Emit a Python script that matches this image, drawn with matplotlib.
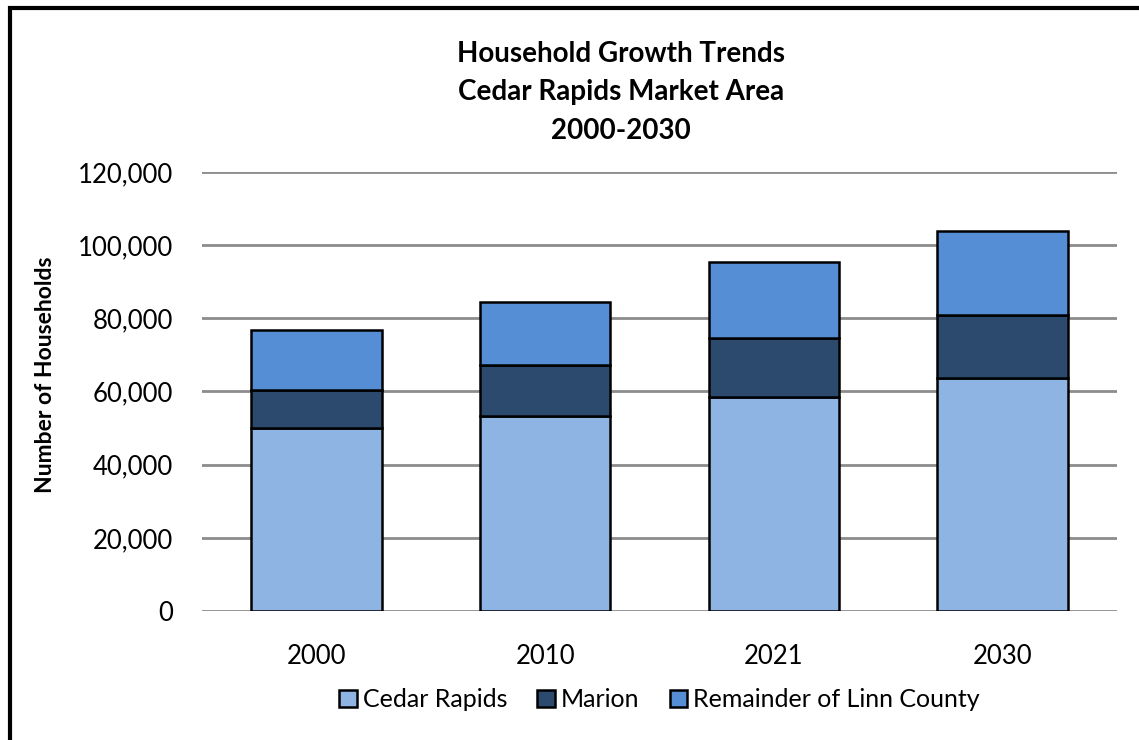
import matplotlib
matplotlib.use("Agg")
import matplotlib.pyplot as plt
from matplotlib.patches import Rectangle
from matplotlib.ticker import FuncFormatter

plt.rcParams["font.family"] = ["Lato", "DejaVu Sans"]

years = ["2000", "2010", "2021", "2030"]
cedar_rapids = [50000, 53300, 58500, 63700]
marion = [10400, 13900, 16100, 17200]
remainder = [16400, 17300, 20800, 23000]

series = [
    ("Cedar Rapids", cedar_rapids, "#8EB4E3"),
    ("Marion", marion, "#2C4A6E"),
    ("Remainder of Linn County", remainder, "#558ED5"),
]

fig = plt.figure(figsize=(11.39, 7.4), dpi=100)
ax = fig.add_axes([0.1773, 0.1743, 0.8034, 0.5933])

xs = range(len(years))
bottom = [0] * len(years)
for name, values, color in series:
    ax.bar(xs, values, width=0.57, bottom=bottom, color=color,
           edgecolor="black", linewidth=1.8, label=name, zorder=3)
    bottom = [b + v for b, v in zip(bottom, values)]

ax.set_ylim(0, 120000)
ax.set_xlim(-0.5, len(years) - 0.5)
ax.set_yticks(range(0, 120001, 20000))
ax.yaxis.set_major_formatter(FuncFormatter(lambda v, _: f"{int(v):,}"))
ax.set_xticks(list(xs))
ax.set_xticklabels(years)
ax.tick_params(length=0, labelsize=18.5)
ax.tick_params(axis="y", pad=21)
ax.tick_params(axis="x", pad=24)
ax.grid(axis="y", color="#8c8c8c", linewidth=2, zorder=0)
for spine in ax.spines.values():
    spine.set_visible(False)

ax.set_ylabel("Number of Households", fontsize=16.5, fontweight="bold")
ax.yaxis.set_label_coords(-0.16, 0.538)

fig.text(0.5455, 0.945, "Household Growth Trends\nCedar Rapids Market Area\n2000-2030",
         ha="center", va="top", fontsize=20, fontweight="bold", linespacing=1.6)

ax.legend(loc="upper center", bbox_to_anchor=(0.5, -0.125), ncol=3, frameon=False,
          fontsize=18, handlelength=0.7, handleheight=0.7, handletextpad=0.25,
          columnspacing=1.2)

fig.add_artist(Rectangle((10 / 1139, -0.05), 1.2, 1 - 8 / 740 + 0.05,
                         transform=fig.transFigure, fill=False,
                         edgecolor="black", linewidth=3))

fig.savefig("out.png", dpi=100)
